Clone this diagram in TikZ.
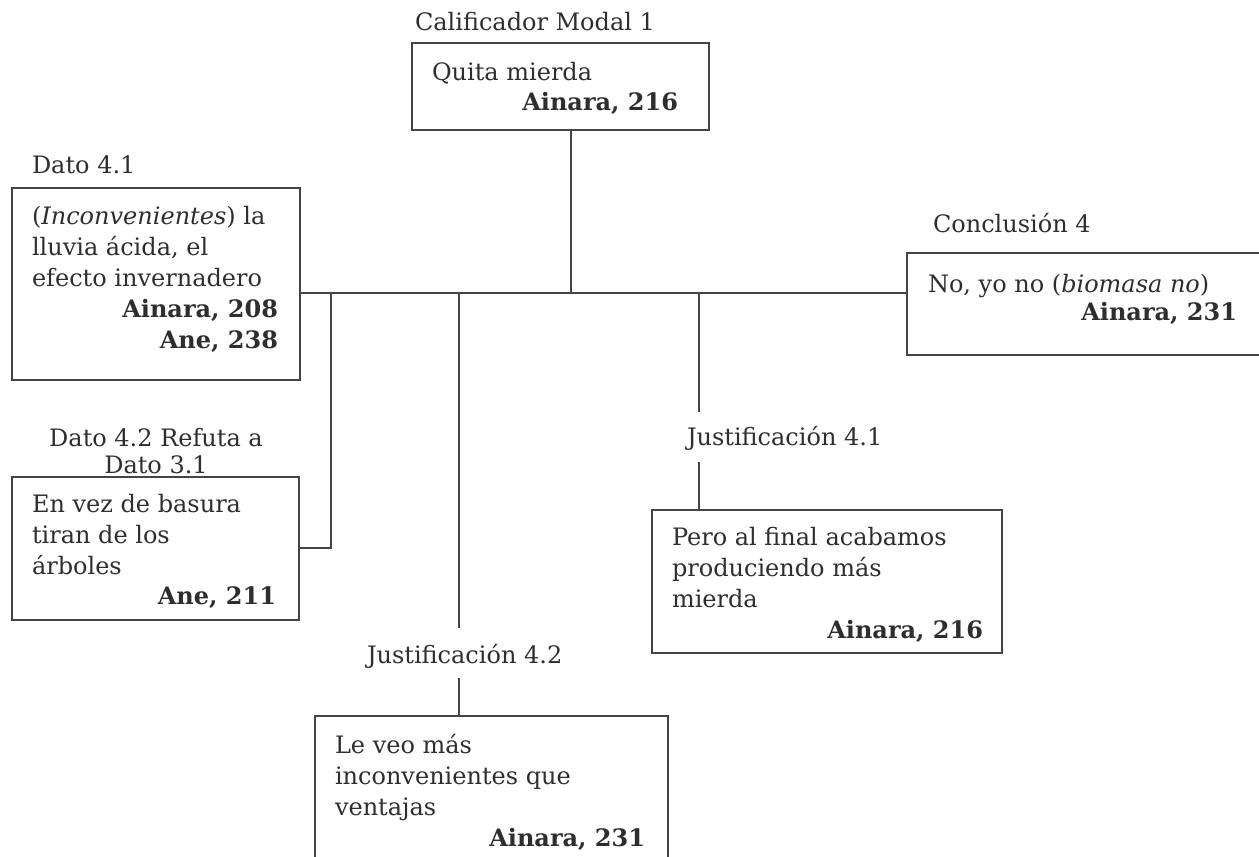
\documentclass[tikz,border=0pt]{standalone}
\usepackage{fontspec}
\setmainfont{DejaVu Serif}
\begin{document}
\definecolor{ink}{HTML}{2E2E2E}
\definecolor{rule}{HTML}{444444}
\begin{tikzpicture}[x=1pt,y=-1pt,
  every node/.style={inner sep=0pt, outer sep=0pt, text=ink},
  box/.style={draw=rule, line width=1.8pt, rectangle, anchor=north west},
  conn/.style={draw=rule, line width=1.8pt},
  % multi-line nodes sit on the baseline of their last line
  body/.style={font=\fontsize{24}{31}\selectfont, align=left, anchor=base west},
  who/.style={font=\fontsize{24}{31}\selectfont\bfseries, align=right, anchor=base east},
  tag/.style={font=\fontsize{24}{27}\selectfont, anchor=base west},
]
\clip (0,0) rectangle (1259,857);

% boxes
\node[box, minimum width=297, minimum height=87]  (cal) at (412,43) {};
\node[box, minimum width=288, minimum height=192] (d41) at (12,188) {};
\node[box, minimum width=287, minimum height=143] (d42) at (12,477) {};
\node[box, minimum width=360, minimum height=102] (con) at (907,253) {};
\node[box, minimum width=350, minimum height=143] (j41) at (652,510) {};
\node[box, minimum width=353, minimum height=200] (j42) at (315,716) {};

% headings
\node[tag] (calT) at (415,30) {Calificador Modal 1};
\node[tag] (d41T) at (32,173) {Dato 4.1};
\node[tag, anchor=base, align=center] (d42T) at (156,473) {Dato 4.2 Refuta a\\Dato 3.1};
\node[tag] (conT) at (933,232) {Conclusión 4};
\node[tag] (j41T) at (687,445) {Justificación 4.1};
\node[tag] (j42T) at (367,663) {Justificación 4.2};

% box contents
\node[body] (calB) at (432,80) {Quita mierda};
\node[who]  (calW) at (678,110) {Ainara, 216};
\node[body] (d41B) at (32,286) {(\textit{Inconvenientes}) la\\lluvia ácida, el\\efecto invernadero};
\node[who]  (d41W) at (278,348) {Ainara, 208\\Ane, 238};
\node[body] (d42B) at (32,574) {En vez de basura\\tiran de los\\árboles};
\node[who]  (d42W) at (276,604) {Ane, 211};
\node[body] (conB) at (928,292) {No, yo no (\textit{biomasa no})};
\node[who]  (conW) at (1237,320) {Ainara, 231};
\node[body] (j41B) at (672,607) {Pero al final acabamos\\produciendo más\\mierda};
\node[who]  (j41W) at (983,638) {Ainara, 216};
\node[body] (j42B) at (335,815) {Le veo más\\inconvenientes que\\ventajas};
\node[who]  (j42W) at (645,846) {Ainara, 231};

% junctions on the main line
\coordinate (m0) at (300,293);
\coordinate (mA) at (331,293);
\coordinate (mB) at (459,293);
\coordinate (mC) at (571,293);
\coordinate (mD) at (699,293);
\coordinate (mE) at (907,293);
\coordinate (bA) at (331,548);
\coordinate (eB) at (459,628);
\coordinate (sB) at (459,678);
\coordinate (eD) at (699,412);
\coordinate (sD) at (699,462);

% connectors
\draw[conn] (m0) -- (mE);
\draw[conn] (mC |- cal.south) -- (mC);
\draw[conn] (mA) -- (bA) -- (bA -| d42.east);
\draw[conn] (mB) -- (eB);
\draw[conn] (sB) -- (sB |- j42.north);
\draw[conn] (mD) -- (eD);
\draw[conn] (sD) -- (sD |- j41.north);
\end{tikzpicture}
\end{document}
